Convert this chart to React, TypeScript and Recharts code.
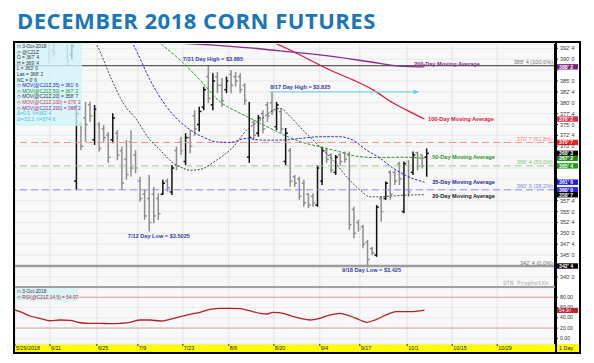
import React from 'react';
import {
  ComposedChart, Bar, Line, XAxis, YAxis, CartesianGrid, ReferenceLine, ReferenceDot,
} from 'recharts';

// ---------- DATA ----------
// bar slot index of the first bar in the OHLC arrays
const FIRST_BAR = 7;
const opens = [397, 392, 395, 396, 395, 391,
  362, 375, 376.5, 379.5, 371.5, 375, 374, 372.5, 371.5, 373, 369, 367, 371, 368, 362, 359, 358, 359, 358, 359, 362, 359.5, 369, 371,
  366.5, 372, 377, 375, 379, 386, 379.5, 386, 384, 383, 386.5, 386, 386, 384, 367.5, 375.5, 373, 377.5, 379.5, 380, 374.5, 378,
  366.5, 369, 363, 362.5, 361.5, 359, 358.5, 356.5, 362, 369, 368, 364, 368, 368.5, 368, 355.5, 352.5, 351.5, 348, 346.5, 345,
  358, 358, 364, 364, 366, 355, 366.5, 364, 368.5, 368, 367.5];
const highs = [399, 397, 398, 398.5, 397, 396,
  379.5, 375.6, 380.2, 380.2, 379.5, 375.6, 374.9, 373.3, 377.6, 373.7, 369.9, 371.4, 373.7, 369.1, 363.0, 360.0, 363.4, 360.7, 359.2, 362.3, 362.6, 365.7, 369.9, 372.2,
  373.0, 373.7, 378.3, 379.1, 383.7, 388.5, 386.8, 387.1, 385.7, 386.0, 387.5, 387.1, 386.8, 384.5, 380.2, 376.0, 377.2, 378.3, 380.2, 382.5, 380.2, 378.7,
  374.2, 369.6, 363.4, 363.0, 362.3, 359.2, 359.2, 365.7, 369.9, 369.5, 368.4, 368.0, 368.4, 368.8, 368.8, 356.1, 353.1, 351.9, 348.5, 346.9, 356.5,
  358.4, 361.9, 364.5, 364.5, 366.5, 366.5, 366.8, 368.8, 368.8, 368.0, 369.5];
const lows = [389, 390.5, 394, 394.5, 388.5, 390,
  360.0, 369.1, 371.0, 375.6, 370.3, 368.8, 371.0, 366.2, 370.7, 366.8, 360.0, 362.3, 363.0, 363.8, 357.3, 353.1, 350.4, 352.3, 353.1, 358.8, 359.6, 358.8, 364.5, 368.0,
  365.7, 368.4, 372.4, 373.4, 378.3, 379.9, 378.3, 382.2, 379.1, 382.2, 382.2, 383.7, 382.2, 379.5, 366.2, 371.4, 372.2, 373.0, 375.6, 377.2, 373.7, 373.0,
  365.7, 360.7, 360.7, 357.7, 356.1, 355.8, 356.1, 356.1, 361.1, 366.2, 363.9, 363.4, 365.7, 366.2, 350.8, 348.9, 350.4, 346.6, 342.5, 345.0, 344.6,
  352.7, 357.7, 357.7, 361.1, 361.1, 354.6, 358.4, 363.4, 364.5, 364.9, 363.0];
const closes = [390.5, 391.5, 395.5, 395, 389.5, 393,
  377.5, 370, 375, 377, 378.5, 369.5, 372, 367.5, 376.5, 368, 361.5, 363.5, 365, 365, 358, 354, 352.5, 354, 354.5, 361.5, 360.5, 365, 365.5, 369,
  372, 370, 374, 378, 383, 381, 385, 384, 380.5, 385, 384, 385, 383, 380.5, 372, 372.5, 376.5, 374, 377, 378, 379.5, 374,
  373, 362, 361.5, 358.5, 357, 356.5, 357, 365, 369, 367, 364.5, 367.5, 366.5, 367, 352, 350, 351, 347.5, 344, 345.5, 356,
  355, 361.5, 359, 362, 362.5, 366, 359.5, 368, 365.5, 365.5, 368.375];

// moving averages: bar slot index -> value
const ma20Idx = [16, 17.5, 20.8, 23.3, 26.3, 29.2, 30.7, 32.8, 34.3, 35.8, 38, 40.2, 43.8, 47.5, 50.4, 53.4, 56.3, 57.8, 60, 62.8, 66.5, 69.4, 72.4, 75.3, 77.5, 79.7, 82.6, 85.6, 89.5];
const ma20Val = [396, 393.3, 385.2, 379.9, 376.0, 371.4, 369.9, 367.6, 366.1, 365.3, 364.5, 364.7, 366.8, 369.9, 373.7, 376.0, 378.3, 378.7, 376.8, 373.7, 369.9, 366.8, 363.0, 360.0, 358.4, 358.4, 358.6, 358.8, 358.875];
const ma35Idx = [23, 25.5, 29.2, 32.8, 35.8, 38.7, 40.9, 43.8, 46.8, 50.4, 54, 57.8, 62.2, 66.5, 70.9, 73.8, 76.8, 79.7, 82.6, 85.6, 89.5];
const ma35Val = [397, 393.3, 385.2, 379.1, 375.6, 373.3, 372.1, 371.0, 370.9, 371.8, 371.4, 371.4, 371.8, 372.2, 372.2, 371.4, 369.1, 367.3, 365.0, 363.2, 361.75];
const ma50Idx = [28, 31.4, 35.8, 40.2, 44.6, 49, 53.4, 57.8, 62.2, 66.5, 70.9, 75.3, 79.7, 84.1, 89.5];
const ma50Val = [397, 393.7, 389.8, 385.2, 380.2, 377.6, 375.3, 373.0, 371.05, 369.9, 368.75, 367.6, 367.4, 367.5, 367.25];
const ma100Idx = [52, 56.7, 60, 65.1, 68.7, 73.9, 78.3, 82.7, 85.6, 89.5];
const ma100Val = [397, 393.7, 392.1, 389.4, 387.5, 385.2, 382.9, 379.9, 378.3, 376.25];
const ma200Idx = [30, 35.8, 43.1, 51.2, 57.8, 68.8, 79.7, 84.1, 89.5];
const ma200Val = [394.6, 393.7, 393.25, 392.6, 391.9, 390.7, 389.05, 388.43, 388.25];

// RSI(14,5)
const rsiIdx = [-0.5, 0.6, 2.8, 5, 7.2, 9.4, 11.6, 13.8, 16, 18.2, 20.4, 22.6, 24.8, 27, 29.2, 31.4, 33.6, 35.8, 38, 40.2, 42.4, 44.6, 46.8, 49, 51.2, 53.4, 54.8, 56.3, 58.5, 60.7, 62.2, 64.3, 66.5, 68.7, 70.9, 73.1, 75.3, 76.8, 79, 81.9, 83.4, 86.3, 89.5];
const rsiVal = [55.2, 51.9, 43.5, 39.0, 34.3, 35.7, 35.1, 30.4, 29.3, 29.3, 28.5, 29.3, 31.2, 35.7, 35.7, 33.8, 37.1, 42.1, 46.8, 50.7, 56.6, 58.5, 58.5, 57.8, 53.3, 48.8, 47.4, 50.7, 48.8, 42.1, 39.0, 35.7, 39.0, 45.5, 48.8, 43.5, 35.7, 31.2, 37.1, 48.8, 51.9, 51.9, 54.97];

// date axis
const dateTickIdx = [-0.5, 7.2, 17.5, 26.5, 36.4, 46.5, 56.4, 66.5, 75.3, 85.7, 95.6, 105.5];
const dateTickLabels = ['5/29/2018', '6/11', '6/25', '7/9', '7/23', '8/6', '8/20', '9/4', '9/17', '10/1', '10/15', '10/29'];

// price axis ticks (cents)
const priceTicks = [340, 342.5, 345, 347.5, 350, 352.5, 355, 357.5, 360, 362.5, 365, 367.5, 370, 372.5, 375, 377.5, 380, 382.5, 385, 387.5, 390, 392.5];
const rsiTicks = [0, 20, 40, 60, 80];

// retracement levels
const fibLevels = [388.5, 370.875, 365.5, 360, 342.5];
const fibPct = ['100.0%', '61.8%', '50.0%', '38.2%', '0.0%'];

// 8/17 high line
const highLineIdx = [55.5, 88.2];
const highLineVal = [382.5, 382.5];

// last values shown on the price scale
const scaleMarks = [388.25, 376.25, 370.875, 368.375, 367.25, 365.5, 361.75, 360, 358.875, 342.5];
const lastRsi = 54.97;

// ---------- helpers ----------
const X_DOMAIN: [number, number] = [-0.5, 118.2];
const P_DOMAIN: [number, number] = [337.68, 393.49];
const R_DOMAIN: [number, number] = [-11, 98];
const FONT = 'Liberation Sans, Arial, sans-serif';

const fmt = (p: number) => {
  const w = Math.floor(p + 1e-6);
  const e = Math.round((p - w) * 8);
  return `${w}' ${e}`;
};

const barData = highs.map((h, k) => ({ i: FIRST_BAR + k, range: [lows[k], h], o: opens[k], c: closes[k] }));
const zip = (a: number[], b: number[]) => a.map((v, k) => ({ i: v, v: b[k] }));
const ma20 = zip(ma20Idx, ma20Val);
const ma35 = zip(ma35Idx, ma35Val);
const ma50 = zip(ma50Idx, ma50Val);
const ma100 = zip(ma100Idx, ma100Val);
const ma200 = zip(ma200Idx, ma200Val);
const rsi = zip(rsiIdx, rsiVal);
const highLine = zip(highLineIdx, highLineVal);

const OhlcBar = (props: any) => {
  const { x, y, width, height, payload } = props;
  if (x == null || y == null || !payload) return <g />;
  const cx = x + width / 2;
  const top = Math.min(y, y + height);
  const bot = Math.max(y, y + height);
  const [lo, hi] = payload.range;
  const span = hi - lo || 1;
  const yOf = (v: number) => top + ((hi - v) / span) * (bot - top);
  const up = payload.c >= payload.o;
  const col = up ? '#111' : '#8e8e8e';
  return (
    <g stroke={col} strokeWidth={1.5}>
      <line x1={cx} x2={cx} y1={top} y2={bot} />
      <line x1={cx - 2.2} x2={cx} y1={yOf(payload.o)} y2={yOf(payload.o)} />
      <line x1={cx} x2={cx + 2.2} y1={yOf(payload.c)} y2={yOf(payload.c)} />
    </g>
  );
};

// price labels hidden behind the coloured value boxes are not drawn
const coveredByMark = (v: number) => scaleMarks.some((m) => Math.abs(m - v) < 0.8);

const PriceTick = (props: any) => {
  const { x, y, payload } = props;
  if (coveredByMark(payload.value)) return <g />;
  return (
    <text x={x} y={y + 2} fontSize={5.4} fill="#333" fontFamily={FONT}>{fmt(payload.value)}</text>
  );
};
const RsiTick = (props: any) => {
  const { x, y, payload } = props;
  return (
    <text x={x} y={y + 1.5} fontSize={5.2} fill="#333" fontFamily={FONT}>{payload.value.toFixed(2)}</text>
  );
};
const DateTick = (props: any) => {
  const { x, y, index } = props;
  return (
    <text x={x + 1} y={y + 4.2} fontSize={5.4} fill="#111" fontFamily={FONT}>{dateTickLabels[index] ?? ''}</text>
  );
};

const annot = (text: string, color: string, dy = 0, size = 5.6, anchor: any = 'start', weight: any = 'bold', family = FONT) =>
  (props: any) => {
    const vb = props.viewBox || {};
    return (
      <text x={vb.x} y={(vb.y ?? 0) + dy} fill={color} fontSize={size} fontWeight={weight} textAnchor={anchor} fontFamily={family}>{text}</text>
    );
  };

const fibStyle = [
  { stroke: '#333', dash: undefined, w: 1, text: '#777' },
  { stroke: '#ff8c8c', dash: '7 4', w: 1, text: '#ff7a7a' },
  { stroke: '#8ed08e', dash: '7 4', w: 1, text: '#7cbf7c' },
  { stroke: '#8c8cff', dash: '7 4', w: 1, text: '#8080f0' },
  { stroke: '#9c9c9c', dash: undefined, w: 2.6, text: '#777' },
];
const markColors = ['#7b1f7b', '#e2304c', '#ff1c1c', '#000', '#1e8c1e', '#17a017', '#1a1aff', '#2424ff', '#000', '#000'];

const fibLabel = (k: number) => (props: any) => {
  const vb = props.viewBox || {};
  return (
    <text x={vb.x + vb.width - 2} y={vb.y - 1.5} textAnchor="end" fontSize={5.6} fill={fibStyle[k].text} fontFamily={FONT}>
      {`${fmt(fibLevels[k])} (${fibPct[k]})`}
    </text>
  );
};
const scaleBox = (color: string, text: string) => (props: any) => {
  const vb = props.viewBox || {};
  const bx = vb.x + vb.width + 1;
  return (
    <g>
      <rect x={bx} y={vb.y - 2.7} width={22} height={5.4} fill={color} />
      <text x={bx + 3} y={vb.y + 1.9} fontSize={5.2} fill="#fff" fontWeight="bold" fontFamily={FONT}>{text}</text>
    </g>
  );
};

const arrowDot = (p: any) => {
  if (p.index !== highLine.length - 1) return <g key={p.index} />;
  const { cx, cy } = p;
  return <polygon key={p.index} points={`${cx},${cy} ${cx - 5},${cy - 2.3} ${cx - 5},${cy + 2.3}`} fill="#6fc8ea" />;
};

const legendLines: [string, string][] = [
  ['⊓ 3-Oct-2018', '#333'],
  ['◇ @C21Z', '#333'],
  ["O = 367' 4", '#333'],
  ["H = 369' 4", '#333'],
  ["L = 363' 0", '#333'],
  ["Las = 368' 2", '#333'],
  ["NC = 0' 6", '#333'],
  ["◇ MOV(@C21Z,35) = 361' 6", '#2222dd'],
  ["◇ MOV(@C21Z,50) = 367' 2", '#1e8c1e'],
  ["◇ MOV(@C21Z,20) = 358' 7", '#333'],
  ["◇ MOV(@C21Z,100) = 376' 2", '#e0304a'],
  ["◇ MOV(@C21Z,200) = 388' 2", '#8a2a8a'],
  ["Δ=0.0, V=382' 4", '#44b8e0'],
  ["Δ=-53.2, V=374' 6", '#44b8e0'],
];

export default function App() {
  return (
    <div style={{ position: 'absolute', left: 0, top: 0, width: 594, height: 363, background: '#fff', overflow: 'hidden' }}>
      <div style={{ position: 'absolute', left: 17, top: 9, fontFamily: 'Open Sans, sans-serif', fontWeight: 700, fontSize: 22, lineHeight: '22px', letterSpacing: 0.5, color: '#1b75bc', whiteSpace: 'nowrap' }}>
        DECEMBER 2018 CORN FUTURES
      </div>

      {/* main price panel */}
      <div style={{ position: 'absolute', left: 0, top: 0 }}>
        <ComposedChart width={594} height={290} data={barData} margin={{ top: 44, right: 9, bottom: 3, left: 15 }}>
          <CartesianGrid vertical={false} stroke="#e9e9e9" fill="#f8f8f8" />
          <XAxis type="number" dataKey="i" domain={X_DOMAIN} allowDataOverflow hide />
          <YAxis orientation="right" width={30} domain={P_DOMAIN} allowDataOverflow ticks={priceTicks} interval={0}
            tick={<PriceTick />} tickSize={3} tickMargin={2} axisLine={{ stroke: '#000', strokeWidth: 2 }} tickLine={{ stroke: '#333' }} />
          {dateTickIdx.map((t) => (
            <ReferenceLine key={`g${t}`} x={t} stroke="#e3e3e3" ifOverflow="hidden" />
          ))}
          {fibLevels.map((lv, k) => (
            <ReferenceLine key={`f${k}`} y={lv} stroke={fibStyle[k].stroke} strokeDasharray={fibStyle[k].dash} strokeWidth={fibStyle[k].w} label={fibLabel(k)} />
          ))}
          <Bar dataKey="range" barSize={5} shape={<OhlcBar />} isAnimationActive={false} />
          <Line data={ma200} dataKey="v" type="monotone" stroke="#8a2a8a" strokeWidth={1.3} dot={false} isAnimationActive={false} />
          <Line data={ma100} dataKey="v" type="monotone" stroke="#e0143c" strokeWidth={1.2} dot={false} isAnimationActive={false} />
          <Line data={ma50} dataKey="v" type="monotone" stroke="#2e9a2e" strokeWidth={1} strokeDasharray="3 1.5" dot={false} isAnimationActive={false} />
          <Line data={ma35} dataKey="v" type="monotone" stroke="#2a2aee" strokeWidth={1} strokeDasharray="2.5 1.5" dot={false} isAnimationActive={false} />
          <Line data={ma20} dataKey="v" type="monotone" stroke="#333" strokeWidth={0.9} strokeDasharray="2 1.5" dot={false} isAnimationActive={false} />
          <Line data={highLine} dataKey="v" type="linear" stroke="#7fd0ec" strokeWidth={1.2} dot={arrowDot} isAnimationActive={false} />

          <ReferenceDot x={36.4} y={389.6} r={0} fill="none" stroke="none" label={annot('7/31 Day High = $3.885', '#3a3aa8')} />
          <ReferenceDot x={55.6} y={383.2} r={0} fill="none" stroke="none" label={annot('8/17 Day High = $3.825', '#3a3aa8')} />
          <ReferenceDot x={24.3} y={348.9} r={0} fill="none" stroke="none" label={annot('7/12 Day Low = $3.5025', '#3a3aa8')} />
          <ReferenceDot x={71.4} y={341.1} r={0} fill="none" stroke="none" label={annot('9/18 Day Low = $3.425', '#3a3aa8')} />
          <ReferenceDot x={87.2} y={388.55} r={0} fill="none" stroke="none" label={annot('200-Day Moving Average', '#8a2a8a')} />
          <ReferenceDot x={90.3} y={375.8} r={0} fill="none" stroke="none" label={annot('100-Day Moving Average', '#e0143c')} />
          <ReferenceDot x={91.2} y={367.1} r={0} fill="none" stroke="none" label={annot('50-Day Moving Average', '#2e9a2e')} />
          <ReferenceDot x={91.2} y={361.3} r={0} fill="none" stroke="none" label={annot('35-Day Moving Average', '#2a2a9e')} />
          <ReferenceDot x={91.2} y={358.2} r={0} fill="none" stroke="none" label={annot('20-Day Moving Average', '#222')} />
          <ReferenceDot x={106.8} y={338.2} r={0} fill="none" stroke="none" label={annot('DTN ProphetX®', '#aaa', 0, 5.8, 'start', 'normal', 'DejaVu Sans Mono, monospace')} />

          {scaleMarks.map((v, k) => (
            <ReferenceLine key={`m${k}`} y={v} stroke="none" label={scaleBox(markColors[k], fmt(v))} />
          ))}
        </ComposedChart>
      </div>

      {/* yellow date band */}
      <div style={{ position: 'absolute', left: 15, top: 344, width: 541, height: 8, background: '#ffff00' }} />
      <div style={{ position: 'absolute', left: 557, top: 344, width: 23, height: 8, background: '#ffff00', fontFamily: FONT, fontSize: 5.4, lineHeight: '8px', color: '#111', paddingLeft: 2, boxSizing: 'border-box' }}>1 Day</div>

      {/* RSI panel */}
      <div style={{ position: 'absolute', left: 0, top: 287 }}>
        <ComposedChart width={594} height={65} data={rsi} margin={{ top: 1, right: 9, bottom: 0, left: 15 }}>
          <CartesianGrid vertical={false} stroke="#ececec" fill="#f8f8f8" />
          <XAxis type="number" dataKey="i" domain={X_DOMAIN} allowDataOverflow ticks={dateTickIdx} interval={0}
            height={8} tick={<DateTick />} tickSize={2} tickMargin={0} axisLine={false} tickLine={{ stroke: '#333' }} />
          <YAxis orientation="right" width={30} domain={R_DOMAIN} allowDataOverflow ticks={rsiTicks} interval={0}
            tick={<RsiTick />} tickSize={3} tickMargin={2} axisLine={{ stroke: '#000', strokeWidth: 2 }} tickLine={{ stroke: '#333' }} />
          {dateTickIdx.map((t) => (
            <ReferenceLine key={`rg${t}`} x={t} stroke="#e3e3e3" ifOverflow="hidden" />
          ))}
          <ReferenceLine y={80} stroke="#e69a9a" />
          <ReferenceLine y={20} stroke="#e69a9a" />
          <Line dataKey="v" type="monotone" stroke="#b52025" strokeWidth={1.3} dot={false} isAnimationActive={false} />
          <ReferenceLine y={lastRsi} stroke="none" label={(props: any) => {
            const vb = props.viewBox || {};
            const bx = vb.x + vb.width + 1;
            return (
              <g>
                <rect x={bx} y={vb.y - 2.3} width={22} height={5.2} fill="#c0282f" />
                <text x={bx + 3} y={vb.y + 2.1} fontSize={5.0} fill="#fff" fontFamily={FONT}>{lastRsi.toFixed(2)}</text>
              </g>
            );
          }} />
        </ComposedChart>
      </div>

      {/* panel separator */}
      <div style={{ position: 'absolute', left: 15, top: 286, width: 541, height: 2, background: '#a0a0a0' }} />

      {/* legends */}
      <div style={{ position: 'absolute', left: 15, top: 43, width: 67, height: 83, background: 'rgba(208,244,250,0.78)' }}>
        {legendLines.map(([t, c], k) => (
          <div key={k} style={{ position: 'absolute', left: 2, top: 1 + k * 5.6, fontFamily: FONT, fontSize: 4.8, lineHeight: '5.6px', color: c, whiteSpace: 'nowrap' }}>{t}</div>
        ))}
      </div>
      <div style={{ position: 'absolute', left: 15, top: 288, width: 63, height: 13, background: 'rgba(208,244,250,0.78)' }}>
        <div style={{ position: 'absolute', left: 2, top: 1, fontFamily: FONT, fontSize: 4.8, lineHeight: '5.6px', color: '#333', whiteSpace: 'nowrap' }}>⊓ 3-Oct-2018</div>
        <div style={{ position: 'absolute', left: 2, top: 6.6, fontFamily: FONT, fontSize: 4.8, lineHeight: '5.6px', color: '#b03030', whiteSpace: 'nowrap' }}>◇ RSI(@C21Z,14,5) = 54.97</div>
      </div>

      {/* frame */}
      <div style={{ position: 'absolute', left: 555, top: 41, width: 2, height: 313, background: '#000' }} />
      <div style={{ position: 'absolute', left: 13, top: 41, width: 568, height: 313, border: '2px solid #000', boxSizing: 'border-box', pointerEvents: 'none' }} />
    </div>
  );
}
